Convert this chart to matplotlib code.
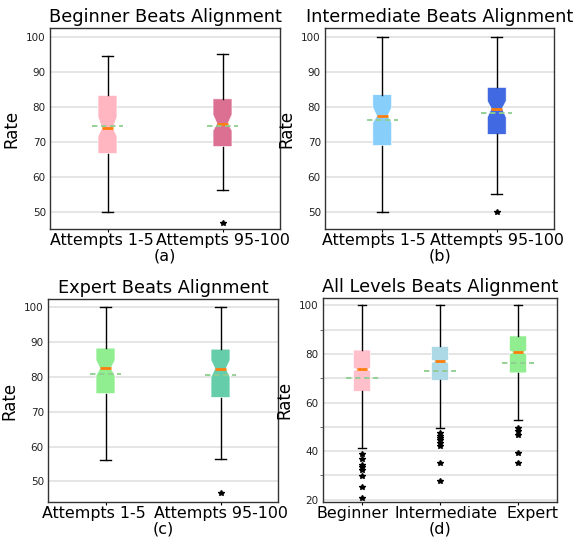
import numpy as np
import matplotlib
matplotlib.use("Agg")
import matplotlib.pyplot as plt
import matplotlib.transforms as mtransforms
from matplotlib.ticker import MultipleLocator

# ---- data ----
attempt_labels = ["Attempts 1-5", "Attempts 95-100"]
level_labels = ["Beginner", "Intermediate", "Expert"]

# each box: whislo, q1, med, q3, whishi, mean, cilo, cihi
beginner_box = [[50.0, 66.6, 73.9, 83.3, 94.6, 74.4, 71.6, 77.1],
                [56.3, 68.6, 75.2, 82.3, 95.2, 74.6, 73.2, 77.8]]
beginner_fliers = [[], [46.8]]

intermediate_box = [[50.0, 68.9, 77.4, 83.5, 100.0, 76.3, 75.5, 79.8],
                    [55.0, 72.1, 79.5, 85.6, 100.0, 78.3, 77.0, 81.7]]
intermediate_fliers = [[], [50.0]]

expert_box = [[56.2, 75.2, 82.5, 88.3, 100.0, 80.9, 80.4, 84.8],
              [56.5, 74.1, 82.4, 88.0, 100.0, 80.7, 80.0, 84.8]]
expert_fliers = [[], [46.7]]

all_box = [[41.4, 64.6, 73.6, 81.6, 100.0, 70.0, 73.1, 74.1],
           [49.4, 69.1, 77.0, 83.1, 100.0, 72.8, 76.3, 77.6],
           [52.7, 72.2, 80.7, 87.4, 100.0, 76.1, 80.0, 81.3]]
all_fliers = [[38.8, 36.8, 34.5, 33.7, 32.3, 29.6, 25.2, 20.7],
              [47.5, 46.1, 45.4, 44.4, 43.3, 42.2, 35.1, 27.8],
              [49.4, 48.4, 46.5, 39.4, 35.1]]

W, H = 573, 539
NOTCH = 0.29  # half-width of the notch waist, as a fraction of box width
fig = plt.figure(figsize=(W / 100, H / 100), dpi=100)


def make_ax(l, r, t, b):
    return fig.add_axes([l / W, 1 - b / H, (r - l) / W, (b - t) / H])


def draw(ax, boxes, fliers, labels, colors, title, tag, ylim, width, meanw, shifts):
    stats = []
    for b, f, lab in zip(boxes, fliers, labels):
        stats.append(dict(whislo=b[0], q1=b[1], med=b[2], q3=b[3], whishi=b[4],
                          mean=b[5], cilo=b[6], cihi=b[7], fliers=f, label=lab))
    pos = np.arange(1, len(boxes) + 1)
    bp = ax.bxp(stats, positions=pos, widths=width, shownotches=True, patch_artist=True,
                showmeans=False, capwidths=0.1,
                boxprops=dict(edgecolor="white", linewidth=0.5),
                medianprops=dict(color="#ff7f0e", linewidth=2),
                whiskerprops=dict(color="black", linewidth=1),
                capprops=dict(color="black", linewidth=1),
                flierprops=dict(marker="*", markerfacecolor="black",
                                markeredgecolor="black", markersize=4))
    for patch, med, c, p in zip(bp["boxes"], bp["medians"], colors, pos):
        patch.set_facecolor(c)
        # shallower notch waist like the reference
        v = patch.get_path().vertices
        waist = np.isclose(np.abs(v[:, 0] - p), width * 0.25)
        v[waist, 0] = p + np.sign(v[waist, 0] - p) * width * NOTCH
        med.set_xdata([p - width * NOTCH, p + width * NOTCH])
    for p, b in zip(pos, boxes):
        ax.hlines(b[5], p - meanw / 2, p + meanw / 2, colors="#8fce8f",
                  linestyles=(0, (3, 2)), linewidth=1.3, zorder=3)
    ax.set_ylim(*ylim)
    ax.set_xlim(0.5, len(boxes) + 0.5)
    ax.grid(axis="y", color="#e0e0e0", linewidth=1.2, zorder=0)
    ax.set_axisbelow(True)
    ax.set_title(title, fontsize=12.8, pad=4)
    ax.set_ylabel("Rate", fontsize=12, labelpad=4)
    ax.set_xlabel(tag, fontsize=11.5, labelpad=0)
    ax.tick_params(axis="x", labelsize=11.4, length=2, pad=1)
    ax.tick_params(axis="y", labelsize=7.5, length=0, pad=3, labelcolor="#222222")
    for s in ax.spines.values():
        s.set_color("#333333")
        s.set_linewidth(1)
    # tick labels in the reference are nudged sideways so they do not collide
    for lab, dx in zip(ax.get_xticklabels(), shifts):
        off = mtransforms.ScaledTranslation(dx / 100, 0, fig.dpi_scale_trans)
        lab.set_transform(lab.get_transform() + off)


ax_a = make_ax(50, 280, 28, 229)
draw(ax_a, beginner_box, beginner_fliers, attempt_labels, ["#FFB6C1", "#DB7093"],
     "Beginner Beats Alignment", "(a)", (45.0, 102.6), 0.165, 0.27, [-6, 0])
ax_b = make_ax(325, 554, 28, 229)
draw(ax_b, intermediate_box, intermediate_fliers, attempt_labels, ["#87CEFA", "#4169E1"],
     "Intermediate Beats Alignment", "(b)", (45.0, 102.6), 0.165, 0.27, [-8, 0])
ax_c = make_ax(48, 278, 299, 502)
draw(ax_c, expert_box, expert_fliers, attempt_labels, ["#90EE90", "#66CDAA"],
     "Expert Beats Alignment", "(c)", (44.1, 102.4), 0.165, 0.27, [-12, 0])
ax_d = make_ax(323, 557, 298, 502)
draw(ax_d, all_box, all_fliers, level_labels, ["#FFC0CB", "#ADD8E6", "#90EE90"],
     "All Levels Beats Alignment", "(d)", (19.1, 103.0), 0.22, 0.4, [-9, 6, 15])
ax_d.yaxis.set_major_locator(MultipleLocator(20))
ax_d.yaxis.set_minor_locator(MultipleLocator(10))
ax_d.grid(axis="y", which="minor", color="#e0e0e0", linewidth=1.2)
ax_d.tick_params(axis="y", which="minor", length=2, color="#555555")

fig.savefig("out.png", dpi=100)
